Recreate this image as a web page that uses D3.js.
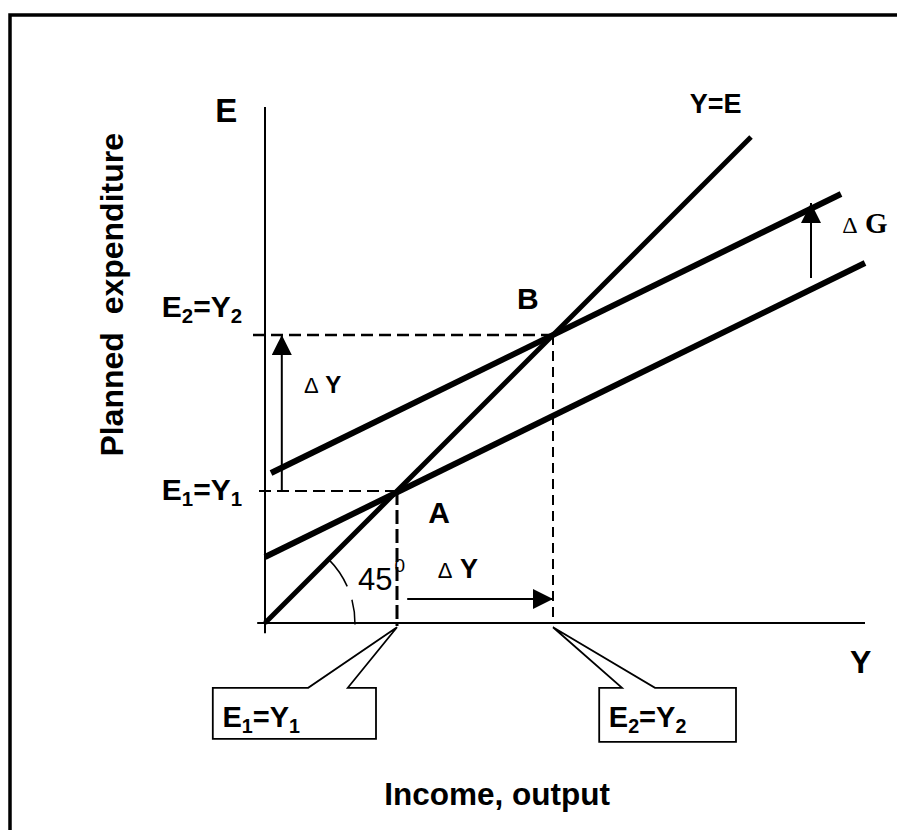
<!DOCTYPE html>
<html>
<head>
<meta charset="utf-8">
<script src="https://cdn.jsdelivr.net/npm/d3@7"></script>
<style>
  body { margin: 0; background: #fff; }
  text { font-family: Arial, "Liberation Sans", sans-serif; fill: #000; }
</style>
</head>
<body>
<div id="chart"></div>
<script>
// Data units: income Y on x, planned expenditure E on y
const xDomain = [0, 100];
const yDomain = [0, 86];

// 45 degree line Y=E
const lineYE = [[0, 0], [81, 81]];
// planned expenditure before and after the rise in G
const lineAE1 = [[0, 11], [100, 60]];
const lineAE2 = [[1, 25], [96, 71.5]];

// equilibrium points A and B
const eqA = [22, 22];
const eqB = [48, 48];

// arrows as [x1, y1, x2, y2]
const arrowDG = [91, 57.5, 91, 70];
const arrowDYv = [2.8, 22, 2.8, 48];
const arrowDYh = [23.7, 4, 48, 4];

// 45 degree angle mark: radius and visible pieces (degrees)
const angleRadius = 15;
const angleSegments = [[45, 24], [15, -1]];

// callout boxes below the axis
const callouts = [
    {parts: ["E", "1", "=Y", "1"], box: [-8.7, 18.5, -10.8, -19.3], base: [7.2, 13.8], tip: [eqA[0], -0.7]},
    {parts: ["E", "2", "=Y", "2"], box: [55.7, 78.5, -10.8, -19.8], base: [59.5, 65], tip: [eqB[0], -0.7]}
];

// text labels (parts alternate normal / subscript)
const labels = [
    {parts: ["E"], x: -8.3, y: 83.5, size: 33, weight: "bold"},
    {parts: ["Y=E"], x: 70.8, y: 85, size: 27, weight: "bold"},
    {parts: ["Y"], x: 97.5, y: -8.3, size: 32, weight: "bold"},
    {parts: ["E", "2", "=Y", "2"], x: -17.2, y: 51, size: 30, weight: "bold"},
    {parts: ["E", "1", "=Y", "1"], x: -17.2, y: 20.5, size: 30, weight: "bold"},
    {parts: ["B"], x: 42, y: 52.3, size: 30, weight: "bold"},
    {parts: ["A"], x: 27.2, y: 16.7, size: 30, weight: "bold"},
    {parts: ["45"], x: 15.5, y: 5.5, size: 31, weight: "normal"},
    {parts: ["0"], x: 21.6, y: 8.5, size: 19, weight: "normal"}
];

function createKeynesianCross() {
    const margin = {top: 107, right: 32, bottom: 207, left: 265},
        width = 897 - margin.left - margin.right,
        height = 830 - margin.top - margin.bottom;

    const root = d3.select("#chart")
        .append("svg")
        .attr("width", width + margin.left + margin.right)
        .attr("height", height + margin.top + margin.bottom);

    // frame (only top and left edges are inside the picture)
    root.append("path")
        .attr("d", "M10,830 L10,15 L897,15")
        .attr("fill", "none")
        .attr("stroke", "#000")
        .attr("stroke-width", 3.5);

    const svg = root.append("g")
        .attr("transform", `translate(${margin.left},${margin.top})`);

    const x = d3.scaleLinear().domain(xDomain).range([0, width]);
    const y = d3.scaleLinear().domain(yDomain).range([height, 0]);

    // arrow head
    const defs = root.append("defs");
    defs.append("marker")
        .attr("id", "head")
        .attr("markerUnits", "userSpaceOnUse")
        .attr("viewBox", "0 0 20 20")
        .attr("refX", 20).attr("refY", 10)
        .attr("markerWidth", 20).attr("markerHeight", 20)
        .attr("orient", "auto")
        .append("path")
        .attr("d", "M0,0 L20,10 L0,20 Z")
        .attr("fill", "#000");

    // axes (plain lines, no ticks)
    svg.append("line")
        .attr("x1", x(0)).attr("x2", x(0))
        .attr("y1", y(-1.7)).attr("y2", y(yDomain[1]))
        .attr("stroke", "#000").attr("stroke-width", 2);
    svg.append("line")
        .attr("x1", x(-1.3)).attr("x2", x(xDomain[1]))
        .attr("y1", y(0)).attr("y2", y(0))
        .attr("stroke", "#000").attr("stroke-width", 2);

    // dashed guides from A and B
    const dashes = [
        {pts: [[-1, eqA[1]], eqA], w: 2, dash: "12,6"},
        {pts: [[-2, eqB[1]], eqB], w: 2.5, dash: "12,6"},
        {pts: [eqA, [eqA[0], -0.5]], w: 3, dash: "14,5"},
        {pts: [eqB, [eqB[0], 0]], w: 2, dash: "10,6"}
    ];
    svg.selectAll(".guide")
        .data(dashes)
        .enter()
        .append("line")
        .attr("class", "guide")
        .attr("x1", d => x(d.pts[0][0])).attr("y1", d => y(d.pts[0][1]))
        .attr("x2", d => x(d.pts[1][0])).attr("y2", d => y(d.pts[1][1]))
        .attr("stroke", "#000")
        .attr("stroke-width", d => d.w)
        .attr("stroke-dasharray", d => d.dash);

    // main lines
    const line = d3.line().x(d => x(d[0])).y(d => y(d[1]));
    [[lineYE, 5], [lineAE1, 6], [lineAE2, 6]].forEach(([pts, w]) => {
        svg.append("path")
            .attr("d", line(pts))
            .attr("fill", "none")
            .attr("stroke", "#000")
            .attr("stroke-width", w);
    });

    // arrows
    svg.selectAll(".arrow")
        .data([arrowDG, arrowDYv, arrowDYh])
        .enter()
        .append("line")
        .attr("class", "arrow")
        .attr("x1", d => x(d[0])).attr("y1", d => y(d[1]))
        .attr("x2", d => x(d[2])).attr("y2", d => y(d[3]))
        .attr("stroke", "#000")
        .attr("stroke-width", 2)
        .attr("marker-end", "url(#head)");

    // 45 degree angle mark
    const r = x(angleRadius) - x(0);
    angleSegments.forEach(([a0, a1]) => {
        const p = d3.path();
        const rad = Math.PI / 180;
        p.moveTo(x(0) + r * Math.cos(a0 * rad), y(0) - r * Math.sin(a0 * rad));
        p.arc(x(0), y(0), r, -a0 * rad, -a1 * rad, false);
        svg.append("path")
            .attr("d", p.toString())
            .attr("fill", "none")
            .attr("stroke", "#000")
            .attr("stroke-width", 1.5);
    });

    // callouts
    callouts.forEach(c => {
        const [bx0, bx1, by0, by1] = c.box;
        const d = `M${x(bx0)},${y(by0)} L${x(c.base[0])},${y(by0)} L${x(c.tip[0])},${y(c.tip[1])} ` +
            `L${x(c.base[1])},${y(by0)} L${x(bx1)},${y(by0)} L${x(bx1)},${y(by1)} L${x(bx0)},${y(by1)} Z`;
        svg.append("path")
            .attr("d", d)
            .attr("fill", "#fff")
            .attr("stroke", "#000")
            .attr("stroke-width", 1.8);
        addLabel({parts: c.parts, x: bx0 + 1.6, y: by0 - 6.5, size: 29, weight: "bold"});
    });

    function addLabel(l) {
        const t = svg.append("text")
            .attr("x", x(l.x))
            .attr("y", y(l.y))
            .attr("font-size", l.size)
            .attr("font-weight", l.weight);
        l.parts.forEach((s, i) => {
            const sub = i % 2 === 1;
            const shift = Math.round(l.size * 0.2);
            t.append("tspan")
                .attr("dy", i === 0 ? 0 : (sub ? shift : -shift))
                .attr("font-size", sub ? l.size * 0.68 : l.size)
                .text(s);
        });
    }
    labels.forEach(addLabel);

    // delta labels
    const deltas = [
        {letter: "Y", x: 6.5, y: 38.3, dSize: 22, size: 24, family: null},
        {letter: "Y", x: 28.8, y: 7.5, dSize: 22, size: 27, family: null},
        {letter: "G", x: 96.2, y: 65, dSize: 24, size: 29, family: "'Liberation Serif', 'Times New Roman', serif"}
    ];
    deltas.forEach(dl => {
        const t = svg.append("text")
            .attr("x", x(dl.x))
            .attr("y", y(dl.y))
            .attr("font-weight", "bold");
        if (dl.family) t.style("font-family", dl.family);
        t.append("tspan").attr("font-size", dl.dSize).attr("font-weight", "normal").text("\u0394");
        t.append("tspan").attr("font-size", dl.size).text("\u00a0" + dl.letter);
    });

    // axis titles
    svg.append("text")
        .attr("x", x(38.7))
        .attr("y", y(-30.3))
        .attr("text-anchor", "middle")
        .attr("font-size", 31.5)
        .attr("font-weight", "bold")
        .text("Income, output");

    svg.append("text")
        .attr("transform", `translate(${x(-23.7)},${y(54.7)}) rotate(-90)`)
        .attr("text-anchor", "middle")
        .attr("font-size", 32)
        .attr("font-weight", "bold")
        .style("white-space", "pre")
        .text("Planned  expenditure");
}

createKeynesianCross();
</script>
</body>
</html>
